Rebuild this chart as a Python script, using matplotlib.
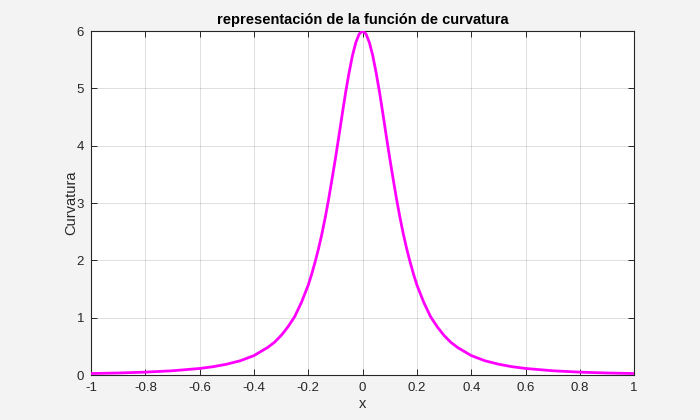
import numpy as np
import matplotlib
matplotlib.use('Agg')
import matplotlib.pyplot as plt

# curvature values (curve is symmetric about x = 0)
x_half = [0.0, 0.0125, 0.025, 0.0375, 0.05, 0.0625, 0.075, 0.0875, 0.1, 0.1125,
          0.125, 0.1375, 0.15, 0.1625, 0.175, 0.1875, 0.2, 0.225, 0.25, 0.275,
          0.3, 0.325, 0.35, 0.4, 0.45, 0.5, 0.55, 0.6, 0.7, 0.8, 0.9, 1.0]
k_half = [6.0, 5.95, 5.80, 5.57, 5.27, 4.93, 4.55, 4.16, 3.78, 3.42,
          3.07, 2.75, 2.46, 2.20, 1.97, 1.76, 1.57, 1.27, 1.02, 0.84,
          0.69, 0.57, 0.48, 0.34, 0.25, 0.19, 0.146, 0.115, 0.075, 0.051, 0.036, 0.027]

x_vals = [-v for v in x_half[:0:-1]] + x_half
k_vals = k_half[:0:-1] + k_half

x_ticks = [-1, -0.8, -0.6, -0.4, -0.2, 0, 0.2, 0.4, 0.6, 0.8, 1]
x_ticklabels = ['-1', '-0.8', '-0.6', '-0.4', '-0.2', '0', '0.2', '0.4', '0.6', '0.8', '1']
y_ticks = [0, 1, 2, 3, 4, 5, 6]

plt.rcParams['font.family'] = ['Liberation Sans', 'DejaVu Sans']
dark = '#262626'

fig = plt.figure(figsize=(7, 4.2), dpi=100, facecolor='#f3f3f3')
ax = fig.add_axes([0.13, 0.107, 0.776, 0.819])
ax.set_facecolor('white')

ax.plot(x_vals, k_vals, color='#ff00ff', linewidth=2.0, zorder=3,
        solid_joinstyle='round')

ax.set_xlim(-1, 1)
ax.set_ylim(0, 6)
ax.set_xticks(x_ticks)
ax.set_xticklabels(x_ticklabels)
ax.set_yticks(y_ticks)

ax.grid(True, color='#262626', alpha=0.15, linewidth=0.7)
ax.tick_params(direction='in', length=4, width=0.7, colors=dark,
               labelsize=9.5, top=True, right=True, pad=5)
for sp in ax.spines.values():
    sp.set_color(dark)
    sp.set_linewidth(0.8)

ax.set_title('representación de la función de curvatura', fontsize=10.5,
             fontweight='bold', color='black', pad=5)
ax.set_xlabel('x', fontsize=10.5, color=dark, labelpad=2)
ax.set_ylabel('Curvatura', fontsize=10.5, color=dark, labelpad=-1)

fig.savefig('out.png', dpi=100, facecolor=fig.get_facecolor())
